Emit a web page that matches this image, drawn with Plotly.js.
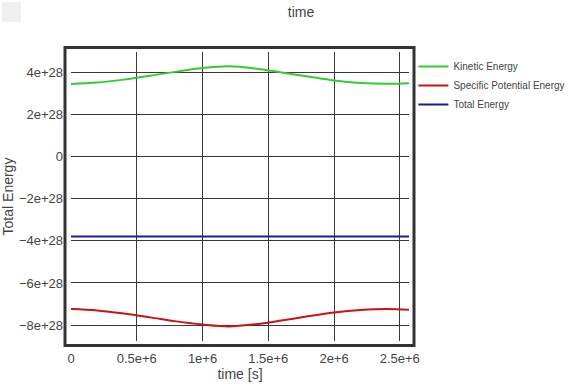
<!DOCTYPE html>
<html>
<head>
<meta charset="utf-8">
<script src="https://cdn.plot.ly/plotly-3.0.1.min.js"></script>
<style>html,body{margin:0;padding:0;background:#fff}#chart{width:576px;height:384px}</style>
</head>
<body>
<div id="chart"></div>
<script>
// time [s]
var timeS = [0, 2e5, 4e5, 6e5, 8e5, 1.0e6, 1.2e6, 1.4e6, 1.6e6, 1.8e6, 2.0e6, 2.2e6, 2.4e6, 2.57e6];
var kineticEnergy = [3.43e28, 3.50e28, 3.64e28, 3.82e28, 4.02e28, 4.19e28, 4.27e28, 4.17e28, 3.98e28, 3.79e28, 3.60e28, 3.48e28, 3.44e28, 3.47e28];
var potentialEnergy = [-7.23e28, -7.30e28, -7.45e28, -7.63e28, -7.82e28, -7.97e28, -8.06e28, -7.96e28, -7.78e28, -7.58e28, -7.40e28, -7.28e28, -7.23e28, -7.27e28];
var totalEnergy = [-3.80e28, -3.80e28, -3.80e28, -3.80e28, -3.80e28, -3.80e28, -3.80e28, -3.80e28, -3.80e28, -3.80e28, -3.80e28, -3.80e28, -3.80e28, -3.80e28];
var seriesNames = ["Kinetic Energy", "Specific Potential Energy", "Total Energy"];
var xTickVals = [0, 0.5e6, 1e6, 1.5e6, 2e6, 2.5e6];
var xTickText = ["0", "0.5e+6", "1e+6", "1.5e+6", "2e+6", "2.5e+6"];
var yTickVals = [4e28, 2e28, 0, -2e28, -4e28, -6e28, -8e28];
var yTickText = ["4e+28", "2e+28", "0", "\u22122e+28", "\u22124e+28", "\u22126e+28", "\u22128e+28"];

var font = "Liberation Sans, Arial, Helvetica, sans-serif";
var traces = [
  {x: timeS, y: kineticEnergy, name: seriesNames[0], mode: "lines", line: {color: "#33cc33", width: 2, shape: "spline"}},
  {x: timeS, y: potentialEnergy, name: seriesNames[1], mode: "lines", line: {color: "#c81414", width: 2, shape: "spline"}},
  {x: timeS, y: totalEnergy, name: seriesNames[2], mode: "lines", line: {color: "#1c1c96", width: 2, shape: "spline"}}
];
var layout = {
  width: 576, height: 384,
  margin: {l: 71, r: 167, t: 52, b: 43, autoexpand: false},
  paper_bgcolor: "#fff", plot_bgcolor: "#fff",
  font: {family: font, color: "#444"},
  title: {text: "time", font: {size: 14, color: "#444"}, x: 301/576, xanchor: "center", y: 0.968, yanchor: "middle"},
  showlegend: true,
  legend: {x: 1.013, y: 1.0, xanchor: "left", yanchor: "top", font: {size: 10, color: "#444"}, bgcolor: "rgba(0,0,0,0)", tracegroupgap: 0},
  xaxis: {
    range: [0, 2.57e6], tickvals: xTickVals, ticktext: xTickText,
    showgrid: true, gridcolor: "#383838", gridwidth: 1, zeroline: false, showline: false,
    tickfont: {size: 13, color: "#444"}, ticklabelstandoff: 8,
    title: {text: "time [s]", font: {size: 14, color: "#444"}, standoff: 4}
  },
  yaxis: {
    range: [-8.75e28, 4.95e28], tickvals: yTickVals, ticktext: yTickText,
    showgrid: true, gridcolor: "#383838", gridwidth: 1, zeroline: false, showline: false,
    tickfont: {size: 13, color: "#444"}, ticklabelstandoff: 7,
    title: {text: "Total Energy", font: {size: 14, color: "#444"}, standoff: 6}
  },
  shapes: [
    {type: "rect", xref: "paper", yref: "paper", x0: -6/338, x1: 1 + 5/338, y0: -4.5/289, y1: 1 + 4.5/289,
     line: {color: "#333", width: 3}, fillcolor: "rgba(0,0,0,0)", layer: "above"},
    {type: "rect", xref: "paper", yref: "paper", x0: -69/338, x1: -50/338, y0: 1 + 30/289, y1: 1 + 50/289,
     line: {width: 0}, fillcolor: "#f0f0f0", layer: "below"}
  ]
};
Plotly.newPlot("chart", traces, layout, {displayModeBar: false, staticPlot: true});
</script>
</body>
</html>
